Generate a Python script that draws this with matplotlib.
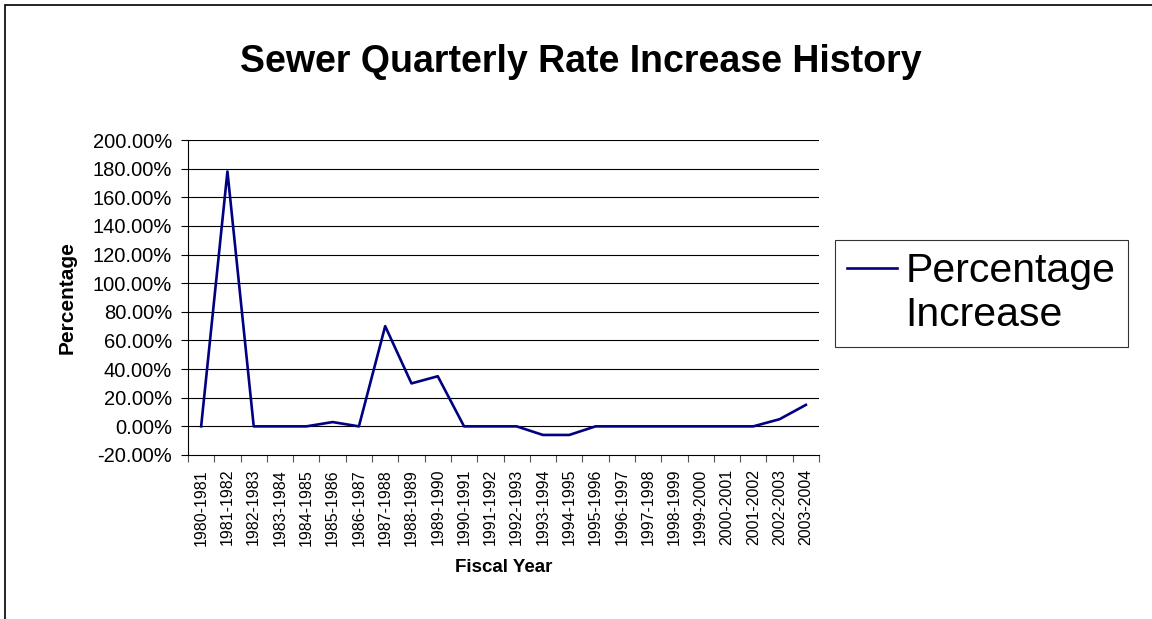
import numpy as np
import matplotlib.pyplot as plt
from matplotlib.patches import Rectangle
from matplotlib.ticker import FuncFormatter

plt.rcParams["font.family"] = ["Liberation Sans", "DejaVu Sans"]

# fiscal years and sewer quarterly rate increase (%)
years = [
    "1980-1981", "1981-1982", "1982-1983", "1983-1984", "1984-1985",
    "1985-1986", "1986-1987", "1987-1988", "1988-1989", "1989-1990",
    "1990-1991", "1991-1992", "1992-1993", "1993-1994", "1994-1995",
    "1995-1996", "1996-1997", "1997-1998", "1998-1999", "1999-2000",
    "2000-2001", "2001-2002", "2002-2003", "2003-2004",
]
pct_increase = [
    0, 178, 0, 0, 0,
    3, 0, 70, 30, 35,
    0, 0, 0, -6, -6,
    0, 0, 0, 0, 0,
    0, 0, 5, 15,
]
y_ticks = np.arange(-20, 201, 20)

fig = plt.figure(figsize=(11.52, 6.19), dpi=100)
# chart-area frame (only the top and left edges show in the original)
fig.patches.append(Rectangle((5 / 1152, -0.1), 1.2, 1.1 - 5 / 619,
                             transform=fig.transFigure, fill=False,
                             edgecolor="black", linewidth=1.2))

ax = fig.add_axes([188 / 1152, 1 - 455 / 619, (819 - 188) / 1152, (455 - 140) / 619])
x = np.arange(len(years))
ax.plot(x, pct_increase, color="#000080", linewidth=1.9, label="Percentage")
# second legend row: the label wraps onto a new line in the original
ax.plot([], [], color="none", label="Increase")

ax.set_xlim(-0.5, len(years) - 0.5)
ax.set_ylim(-20, 200)
ax.set_yticks(y_ticks)
ax.yaxis.set_major_formatter(FuncFormatter(lambda v, p: f"{v:.2f}%"))
for v in y_ticks[1:]:
    ax.axhline(v, color="black", linewidth=0.8, zorder=0)

ax.set_xticks(x)
ax.set_xticklabels(years, rotation=90)
ax.set_xticks(np.arange(-0.5, len(years)), minor=True)
ax.tick_params(axis="x", which="major", length=0, pad=10, labelsize=11.5)
ax.tick_params(axis="x", which="minor", length=5, width=0.8, color="#555555")
ax.tick_params(axis="y", length=5, width=0.8, labelsize=14.5, pad=6.5)

for s in ("top", "right"):
    ax.spines[s].set_visible(False)
ax.spines["left"].set_linewidth(0.8)
ax.spines["bottom"].set_linewidth(0.8)

ax.set_xlabel("Fiscal Year", fontsize=13.5, fontweight="bold")
ax.set_ylabel("Percentage", fontsize=15, fontweight="bold")
ax.xaxis.set_label_coords(0.5, (455 - 559) / 315)
ax.yaxis.set_label_coords((77 - 188) / 631, 0.5)

fig.text(581 / 1152, 1 - 62 / 619, "Sewer Quarterly Rate Increase History",
         ha="center", va="center", fontsize=27, fontweight="bold")

leg = fig.legend(loc="upper left", bbox_to_anchor=(835 / 1152, 1 - 240 / 619),
                 fontsize=29.5, frameon=True, fancybox=False, handlelength=1.22,
                 handletextpad=0.2, borderpad=0.3, labelspacing=0.15,
                 borderaxespad=0)
leg.get_frame().set_edgecolor("black")
leg.get_frame().set_linewidth(0.8)

fig.savefig("out.png", dpi=100)
